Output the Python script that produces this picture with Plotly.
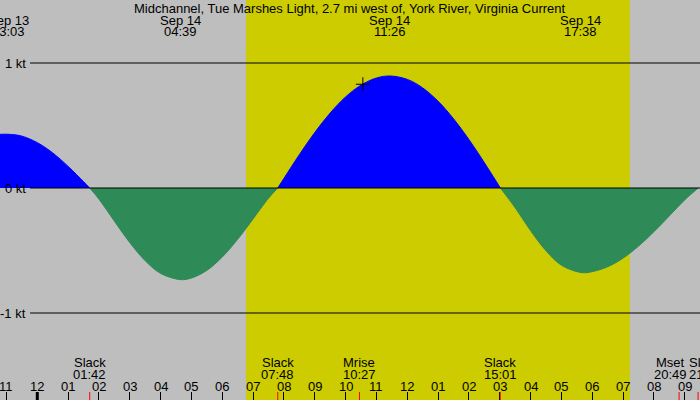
import plotly.graph_objects as go

# Tidal current, Sep 14; x = hours after Sep 14 00:00 (negative = Sep 13)
hours = [-1.5, -0.95, -0.5, 0.0, 0.5, 1.0, 1.5, 1.70,
         2.0, 2.5, 3.0, 3.5, 4.0, 4.65, 5.0, 5.5, 6.0, 6.5, 7.0, 7.5, 7.80,
         8.0, 8.5, 9.0, 9.5, 10.0, 10.5, 11.0, 11.44, 12.0, 12.5, 13.0, 13.5, 14.0, 14.5, 15.02,
         15.5, 16.0, 16.5, 17.0, 17.66, 18.0, 18.5, 19.0, 19.5, 20.0, 20.5, 21.0, 21.44]
knots = [0.425, 0.430, 0.415, 0.363, 0.281, 0.173, 0.051, 0.0,
         -0.089, -0.265, -0.437, -0.582, -0.683, -0.733, -0.720, -0.659, -0.552, -0.410, -0.247, -0.082, 0.0,
         0.077, 0.267, 0.444, 0.600, 0.729, 0.823, 0.880, 0.896, 0.869, 0.801, 0.694, 0.554, 0.388, 0.203, 0.0,
         -0.158, -0.341, -0.502, -0.618, -0.677, -0.669, -0.630, -0.561, -0.465, -0.350, -0.223, -0.095, 0.0]

# max flood / max ebb labels along the top
peak_hours = [-0.95, 4.65, 11.433, 17.633]
peak_dates = ['Sep 13', 'Sep 14', 'Sep 14', 'Sep 14']
peak_times = ['23:03', '04:39', '11:26', '17:38']

# slack / moon events along the bottom
event_hours = [1.70, 7.80, 10.45, 15.017, 20.817, 21.433]
event_names = ['Slack', 'Slack', 'Mrise', 'Slack', 'Mset', 'Slack']
event_times = ['01:42', '07:48', '10:27', '15:01', '20:49', '21:26']
event_shift = [0, 0, 0, 0, -9, 7]

sunrise = 6.77
sunset = 19.22

now_hour = [10.56]
now_value = [0.83]

hour_ticks = list(range(-1, 22))
hour_labels = ['11', '12', '01', '02', '03', '04', '05', '06', '07', '08', '09', '10',
               '11', '12', '01', '02', '03', '04', '05', '06', '07', '08', '09']

kt_levels = [1, 0, -1]
kt_labels = ['1 kt', '0 kt', '-1 kt']

GRAY = '#BEBEBE'
DAY = '#CCCC00'
FLOOD = '#0000FF'
EBB = '#2E8B57'
FONT = dict(family='Liberation Sans, Arial, sans-serif', size=13, color='black')

fig = go.Figure()

# split the curve into flood / ebb pieces at the slack points (value 0)
runs = []
cur_x, cur_y = [], []
for h, v in zip(hours, knots):
    cur_x.append(h)
    cur_y.append(v)
    if v == 0 and len(cur_x) > 1:
        runs.append((cur_x, cur_y))
        cur_x, cur_y = [h], [v]
if len(cur_x) > 1:
    runs.append((cur_x, cur_y))

for rx, ry in runs:
    col = FLOOD if sum(ry) > 0 else EBB
    fig.add_trace(go.Scatter(
        x=rx, y=ry, mode='lines', fill='tozeroy',
        line=dict(color=col, width=1, shape='spline', smoothing=1.0),
        fillcolor=col, hoverinfo='skip'
    ))

fig.add_trace(go.Scatter(
    x=now_hour, y=now_value, mode='markers',
    marker=dict(symbol='cross-thin', size=10, line=dict(color='black', width=1)),
    hoverinfo='skip'
))

shapes = []
# daylight
shapes.append(dict(type='rect', xref='x', yref='paper', x0=sunrise, x1=sunset, y0=0, y1=1,
                   fillcolor=DAY, line=dict(width=0), layer='below'))
# kt lines
for lv in kt_levels:
    shapes.append(dict(type='line', xref='paper', yref='y', x0=30 / 700, x1=1, y0=lv, y1=lv,
                       line=dict(color='black', width=1)))
# midnight tick is heavier
shapes.append(dict(type='line', xref='x', yref='paper', x0=0, x1=0, y0=0, y1=8 / 400,
                   line=dict(color='black', width=3)))
# red event ticks
for eh in event_hours:
    shapes.append(dict(type='line', xref='x', yref='paper', x0=eh, x1=eh, y0=0, y1=8 / 400,
                       line=dict(color='red', width=1)))

ann = []
ann.append(dict(text='Midchannel, Tue Marshes Light, 2.7 mi west of, York River, Virginia Current',
                xref='paper', yref='paper', x=0.5, y=1 - 8 / 400, showarrow=False,
                xanchor='center', yanchor='middle', font=FONT))
for ph, pd_, pt in zip(peak_hours, peak_dates, peak_times):
    ann.append(dict(text=pd_, xref='x', yref='paper', x=ph, y=1 - 20 / 400, showarrow=False,
                    xanchor='center', yanchor='middle', font=FONT))
    ann.append(dict(text=pt, xref='x', yref='paper', x=ph, y=1 - 32 / 400, showarrow=False,
                    xanchor='center', yanchor='middle', font=FONT))
for eh, en, et, es in zip(event_hours, event_names, event_times, event_shift):
    ann.append(dict(text=en, xref='x', yref='paper', x=eh, y=1 - 362 / 400, showarrow=False,
                    xanchor='center', yanchor='middle', xshift=es, font=FONT))
    ann.append(dict(text=et, xref='x', yref='paper', x=eh, y=1 - 374 / 400, showarrow=False,
                    xanchor='center', yanchor='middle', xshift=es, font=FONT))
for ht, hl in zip(hour_ticks, hour_labels):
    ann.append(dict(text=hl, xref='x', yref='paper', x=ht, y=1 - 386 / 400, showarrow=False,
                    xanchor='center', yanchor='middle', font=FONT))
for lv, lt in zip(kt_levels, kt_labels):
    ann.append(dict(text=lt, xref='paper', yref='y', x=28 / 700, y=lv, showarrow=False,
                    xanchor='right', yanchor='middle', font=FONT))

fig.update_layout(
    width=700, height=400,
    margin=dict(l=0, r=0, t=0, b=0),
    paper_bgcolor=GRAY, plot_bgcolor=GRAY,
    showlegend=False,
    shapes=shapes, annotations=ann,
    xaxis=dict(range=[-1.21, 21.495], showgrid=False, zeroline=False, showline=False,
               tickmode='array', tickvals=hour_ticks, showticklabels=False,
               ticks='inside', ticklen=8, tickwidth=1, tickcolor='black',
               fixedrange=True),
    yaxis=dict(range=[-1.696, 1.504], showgrid=False, zeroline=False, showline=False,
               showticklabels=False, ticks='', fixedrange=True),
)

fig.write_html('out.html', config={'displayModeBar': False},
               post_script="document.body.style.margin='0';document.body.style.overflow='hidden';")
